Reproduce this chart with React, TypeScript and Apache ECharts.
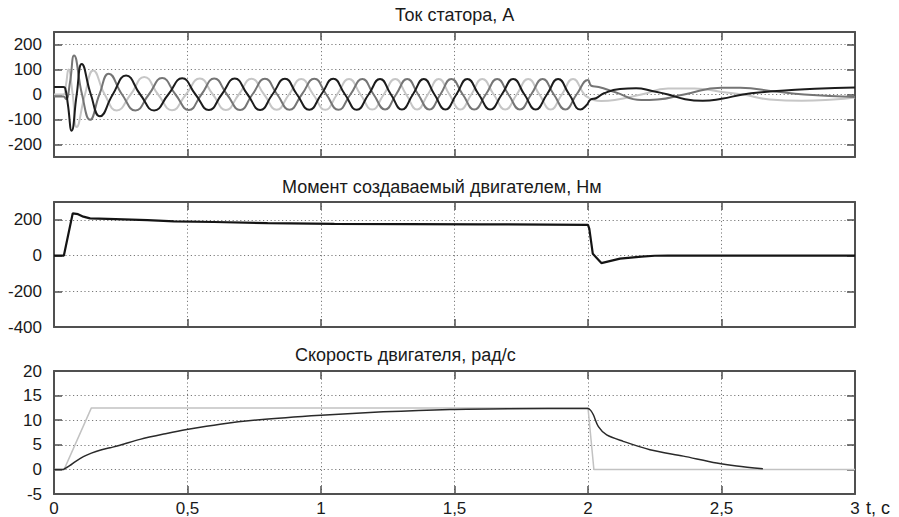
import React, { useEffect, useRef } from 'react';
import * as echarts from 'echarts';

// ---------- data ----------
const TITLES = ['Ток статора, А', 'Момент создаваемый двигателем, Нм', 'Скорость двигателя, рад/с'];
const X_UNIT = 't, c';

const CURRENT_TICKS = [-200, -100, 0, 100, 200];
const TORQUE_TICKS = [-400, -200, 0, 200];
const SPEED_TICKS = [-5, 0, 5, 10, 15, 20];

// stator current, phase drawn dark
const currentA: number[][] = [
  [0, 30], [0.035, 30], [0.042, 25], [0.052, -40], [0.066, -145], [0.085, 0], [0.104, 122], [0.138, 0],
  [0.172, -87], [0.22, 0], [0.27, 76], [0.323, 0], [0.375, -64], [0.428, 0], [0.48, 65], [0.53, 0],
  [0.58, -62], [0.628, 0], [0.677, 64], [0.725, 0], [0.772, -62], [0.818, 0], [0.865, 63], [0.91, 0],
  [0.956, -61], [1.001, 0], [1.046, 63], [1.09, 0], [1.134, -61], [1.178, 0], [1.221, 62], [1.262, 0],
  [1.303, -60], [1.344, 0], [1.385, 62], [1.425, 0], [1.466, -60], [1.507, 0], [1.548, 62], [1.591, 0],
  [1.634, -60], [1.677, 0], [1.72, 62], [1.762, 0], [1.804, -60], [1.846, 0], [1.888, 62], [1.93, 0],
  [1.972, -60], [1.995, -42], [2.01, -20], [2.03, -15], [2.06, 5], [2.12, 22], [2.18, 25], [2.24, 14],
  [2.3, 0], [2.36, -18], [2.43, -25], [2.5, -17], [2.58, 0], [2.66, 10], [2.75, 17], [2.85, 23], [3, 28],
];
// stator current, phase drawn mid grey
const currentB: number[][] = [
  [0, -8], [0.035, -8], [0.045, -18], [0.06, 50], [0.075, 156], [0.105, 0], [0.135, -101], [0.17, 0],
  [0.205, 83], [0.255, 0], [0.305, -64], [0.355, 0], [0.405, 66], [0.455, 0], [0.505, -62], [0.552, 0],
  [0.6, 64], [0.648, 0], [0.697, -62], [0.743, 0], [0.79, 63], [0.836, 0], [0.882, -61], [0.928, 0],
  [0.975, 63], [1.02, 0], [1.065, -61], [1.11, 0], [1.155, 62], [1.197, 0], [1.24, -60], [1.281, 0],
  [1.323, 62], [1.364, 0], [1.406, -60], [1.447, 0], [1.488, 62], [1.531, 0], [1.574, -60], [1.617, 0],
  [1.66, 62], [1.702, 0], [1.745, -60], [1.787, 0], [1.83, 62], [1.872, 0], [1.915, -60], [1.957, 0],
  [2.0, 58], [2.012, 35], [2.04, 30], [2.1, 10], [2.2, -22], [2.26, -20], [2.36, 0], [2.5, 27],
  [2.57, 27], [2.7, 12], [2.81, 0], [3, -10],
];
// stator current, phase drawn light grey
const currentC: number[][] = [
  [0, 0], [0.035, 0], [0.045, 40], [0.054, 100], [0.07, 0], [0.085, -130], [0.116, 0], [0.147, 96],
  [0.19, 0], [0.235, -64], [0.287, 0], [0.338, 70], [0.39, 0], [0.442, -63], [0.494, 0], [0.546, 64],
  [0.595, 0], [0.644, -62], [0.692, 0], [0.74, 63], [0.787, 0], [0.834, -61], [0.88, 0], [0.926, 62],
  [0.971, 0], [1.016, -61], [1.06, 0], [1.105, 62], [1.148, 0], [1.192, -60], [1.235, 0], [1.278, 62],
  [1.319, 0], [1.36, -60], [1.4, 0], [1.441, 62], [1.481, 0], [1.522, -60], [1.563, 0], [1.604, 62],
  [1.647, 0], [1.69, -60], [1.733, 0], [1.776, 62], [1.818, 0], [1.86, -60], [1.902, 0], [1.944, 62],
  [1.986, 0], [2.0, -12], [2.02, -22], [2.05, -26], [2.1, -22], [2.2, 0], [2.3, 24], [2.4, 24],
  [2.5, 10], [2.58, 0], [2.68, -20], [2.8, -25], [2.92, -20], [3, -12],
];

// motor torque, N·m
const torque: number[][] = [
  [0, 0], [0.037, 0], [0.07, 236], [0.09, 232], [0.11, 218], [0.135, 208], [0.2, 205], [0.35, 198],
  [0.45, 192], [0.6, 188], [0.8, 182], [1.05, 177], [1.6, 175], [2.0, 172], [2.005, 150], [2.018, 10],
  [2.05, -42], [2.12, -17], [2.2, -6], [2.25, -1], [2.3, 0], [3, 0],
];

// speed reference and actual speed, rad/s
const speedRef: number[][] = [[0, 0], [0.038, 0], [0.14, 12.5], [2.0, 12.5], [2.022, 0], [3, 0]];
const speed: number[][] = [
  [0, 0], [0.035, 0], [0.045, 0.3], [0.06, 0.8], [0.08, 1.6], [0.11, 2.6], [0.14, 3.3], [0.172, 3.9],
  [0.21, 4.4], [0.247, 4.9], [0.322, 6.1], [0.422, 7.3], [0.497, 8.1], [0.622, 9.2], [0.77, 10.1],
  [1.0, 11.0], [1.233, 11.7], [1.483, 12.2], [1.7, 12.35], [2.0, 12.4], [2.01, 12.0], [2.02, 11.1],
  [2.039, 8.7], [2.07, 7.0], [2.132, 5.7], [2.232, 4.0], [2.357, 2.7], [2.482, 1.3], [2.557, 0.7],
  [2.655, 0.15],
];

// ---------- chart ----------
const FONT = "'Liberation Sans', Arial, sans-serif";
const BOX = '#505050';
const GRIDLINE = '#7a7a7a';

const GRIDS = [
  { left: 54, width: 801, top: 32, height: 125 },
  { left: 54, width: 801, top: 202, height: 125 },
  { left: 54, width: 801, top: 371, height: 124 },
];
const Y_RANGES = [
  { min: -250, max: 250, ticks: CURRENT_TICKS },
  { min: -400, max: 300, ticks: TORQUE_TICKS },
  { min: -5, max: 20, ticks: SPEED_TICKS },
];
const TITLE_POS = [
  { left: 395, top: 6 },
  { left: 282, top: 178 },
  { left: 295, top: 346 },
];

function buildOption() {
  const tick = { show: true, inside: true, length: 8, lineStyle: { color: BOX, width: 1.5 } };
  const axisLine = { show: true, onZero: false, lineStyle: { color: BOX, width: 2 } };
  const split = { show: true, lineStyle: { color: GRIDLINE, width: 1, type: [1.2, 2.6] as any } };
  const xAxis: any[] = [];
  const yAxis: any[] = [];
  GRIDS.forEach((_, i) => {
    xAxis.push({
      type: 'value', gridIndex: i, min: 0, max: 3, interval: 0.5, position: 'bottom',
      axisLine, axisTick: tick, splitLine: split,
      axisLabel: {
        show: i === 2, margin: 6, color: '#1a1a1a', fontSize: 17, fontFamily: FONT,
        formatter: (v: number) => String(v).replace('.', ','),
      },
    });
    yAxis.push({
      type: 'value', gridIndex: i, min: Y_RANGES[i].min, max: Y_RANGES[i].max, position: 'left',
      axisLine, axisTick: { ...tick, customValues: Y_RANGES[i].ticks }, splitLine: split,
      axisLabel: {
        show: true, margin: 12, color: '#1a1a1a', fontSize: 17, fontFamily: FONT,
        customValues: Y_RANGES[i].ticks,
      },
    });
  });
  GRIDS.forEach((_, i) => {
    xAxis.push({
      type: 'value', gridIndex: i, min: 0, max: 3, interval: 0.5, position: 'top',
      axisLine, axisTick: tick, splitLine: { show: false }, axisLabel: { show: false },
    });
    yAxis.push({
      type: 'value', gridIndex: i, min: Y_RANGES[i].min, max: Y_RANGES[i].max, position: 'right',
      axisLine, axisTick: { ...tick, customValues: Y_RANGES[i].ticks },
      splitLine: { show: false }, axisLabel: { show: false, customValues: Y_RANGES[i].ticks },
    });
  });

  const line = (data: number[][], grid: number, color: string, width: number, smooth: number | boolean, z: number) => ({
    type: 'line', xAxisIndex: grid, yAxisIndex: grid, data, symbol: 'none', showSymbol: false,
    smooth, lineStyle: { color, width }, z, silent: true,
  });

  return {
    animation: false,
    backgroundColor: '#ffffff',
    title: TITLES.map((t, i) => ({
      text: t, left: TITLE_POS[i].left, top: TITLE_POS[i].top, padding: 0,
      textStyle: { fontSize: 18, fontWeight: 'normal', color: '#1a1a1a', fontFamily: FONT },
    })),
    grid: GRIDS.map((g) => ({ ...g, containLabel: false })),
    xAxis,
    yAxis,
    graphic: [
      {
        type: 'text', left: 866, top: 499,
        style: { text: X_UNIT, fontSize: 18, fontFamily: FONT, fill: '#1a1a1a' },
      },
    ],
    series: [
      line(currentC, 0, '#c6c6c6', 2, 0.5, 3),
      line(currentB, 0, '#757575', 2, 0.5, 4),
      line(currentA, 0, '#1c1c1c', 2, 0.5, 5),
      line(torque, 1, '#141414', 2.2, false, 5),
      line(speedRef, 2, '#c2c2c2', 1.5, false, 3),
      line(speed, 2, '#2a2a2a', 1.5, 0.3, 5),
    ],
  };
}

export default function App() {
  const ref = useRef<HTMLDivElement>(null);
  useEffect(() => {
    if (!ref.current) return;
    const chart = echarts.init(ref.current, undefined, { renderer: 'svg' });
    chart.setOption(buildOption() as any);
    return () => chart.dispose();
  }, []);
  return (
    <div
      ref={ref}
      style={{ position: 'fixed', left: 0, top: 0, width: 899, height: 517, background: '#fff' }}
    />
  );
}
